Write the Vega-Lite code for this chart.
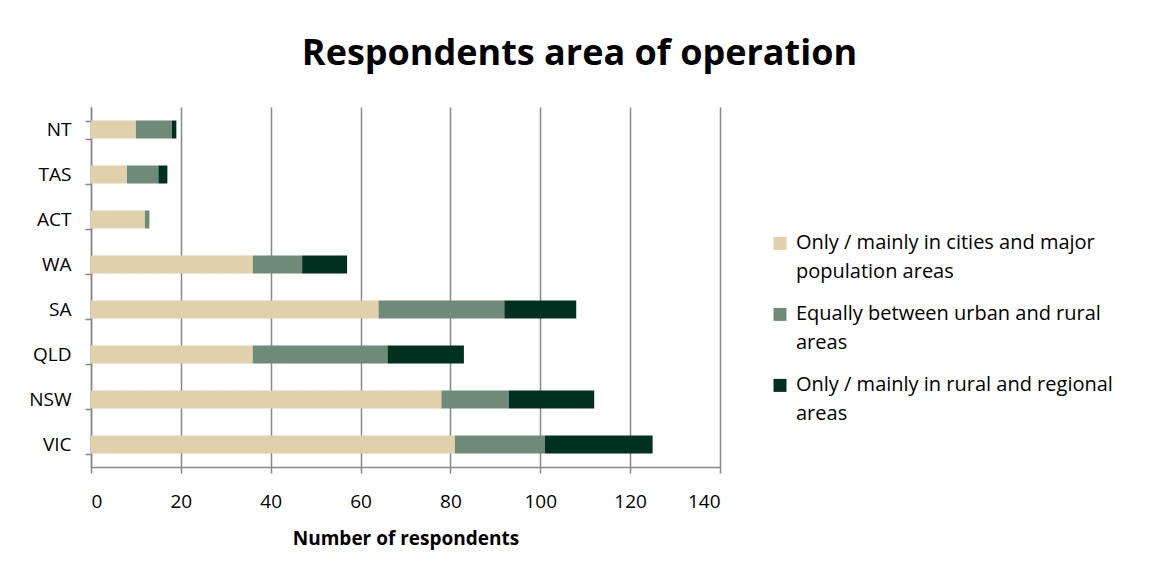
{
  "$schema": "https://vega.github.io/schema/vega-lite/v6.json",
  "width": 629,
  "height": 360,
  "padding": {"left": 28, "top": 36, "right": 5, "bottom": 5},
  "background": "white",
  "title": {"text": "Respondents area of operation", "font": "Open Sans", "fontSize": 36, "fontWeight": "bold", "color": "black", "anchor": "middle", "offset": 25, "dx": 174},
  "data": {"values": [
    {"state": "NT", "area": "Only / mainly in cities and major population areas", "k": 1, "n": 10},
    {"state": "NT", "area": "Equally between urban and rural areas", "k": 2, "n": 8},
    {"state": "NT", "area": "Only / mainly in rural and regional areas", "k": 3, "n": 1},
    {"state": "TAS", "area": "Only / mainly in cities and major population areas", "k": 1, "n": 8},
    {"state": "TAS", "area": "Equally between urban and rural areas", "k": 2, "n": 7},
    {"state": "TAS", "area": "Only / mainly in rural and regional areas", "k": 3, "n": 2},
    {"state": "ACT", "area": "Only / mainly in cities and major population areas", "k": 1, "n": 12},
    {"state": "ACT", "area": "Equally between urban and rural areas", "k": 2, "n": 1},
    {"state": "ACT", "area": "Only / mainly in rural and regional areas", "k": 3, "n": 0},
    {"state": "WA", "area": "Only / mainly in cities and major population areas", "k": 1, "n": 36},
    {"state": "WA", "area": "Equally between urban and rural areas", "k": 2, "n": 11},
    {"state": "WA", "area": "Only / mainly in rural and regional areas", "k": 3, "n": 10},
    {"state": "SA", "area": "Only / mainly in cities and major population areas", "k": 1, "n": 64},
    {"state": "SA", "area": "Equally between urban and rural areas", "k": 2, "n": 28},
    {"state": "SA", "area": "Only / mainly in rural and regional areas", "k": 3, "n": 16},
    {"state": "QLD", "area": "Only / mainly in cities and major population areas", "k": 1, "n": 36},
    {"state": "QLD", "area": "Equally between urban and rural areas", "k": 2, "n": 30},
    {"state": "QLD", "area": "Only / mainly in rural and regional areas", "k": 3, "n": 17},
    {"state": "NSW", "area": "Only / mainly in cities and major population areas", "k": 1, "n": 78},
    {"state": "NSW", "area": "Equally between urban and rural areas", "k": 2, "n": 15},
    {"state": "NSW", "area": "Only / mainly in rural and regional areas", "k": 3, "n": 19},
    {"state": "VIC", "area": "Only / mainly in cities and major population areas", "k": 1, "n": 81},
    {"state": "VIC", "area": "Equally between urban and rural areas", "k": 2, "n": 20},
    {"state": "VIC", "area": "Only / mainly in rural and regional areas", "k": 3, "n": 24}
  ]},
  "mark": {"type": "bar"},
  "encoding": {
    "y": {
      "field": "state", "type": "nominal",
      "sort": ["NT", "TAS", "ACT", "WA", "SA", "QLD", "NSW", "VIC"],
      "scale": {"paddingInner": 0.6, "paddingOuter": 0.3},
      "axis": {"title": null, "labelFont": "Open Sans", "labelFontSize": 19, "labelColor": "black", "labelPadding": 14,
               "domainColor": "#888888", "domainWidth": 1.5, "tickColor": "#888888", "tickWidth": 1.5, "tickSize": 6, "tickBand": "extent", "grid": false}
    },
    "x": {
      "field": "n", "type": "quantitative", "stack": "zero",
      "scale": {"domain": [0, 140], "nice": false},
      "axis": {"values": [0, 20, 40, 60, 80, 100, 120, 140], "title": "Number of respondents", "titleFont": "Open Sans", "titleFontSize": 19, "titleFontWeight": "bold", "titleColor": "black", "titlePadding": 18,
               "labelFont": "Open Sans", "labelFontSize": 19, "labelColor": "black", "labelPadding": 19,
               "domainColor": "#888888", "domainWidth": 1.5, "tickColor": "#888888", "tickWidth": 1.5, "tickSize": 6,
               "grid": true, "gridColor": "#888888", "gridWidth": 1.5}
    },
    "color": {
      "field": "area", "type": "nominal",
      "sort": ["Only / mainly in cities and major population areas", "Equally between urban and rural areas", "Only / mainly in rural and regional areas"],
      "scale": {"domain": ["Only / mainly in cities and major population areas", "Equally between urban and rural areas", "Only / mainly in rural and regional areas"], "range": ["#E0D0AC", "#6E8A79", "#003020"]},
      "legend": {
        "title": null, "orient": "none", "legendX": 679, "legendY": 116,
        "labelFont": "Open Sans", "labelFontSize": 20, "labelColor": "black", "labelLimit": 420,
        "symbolType": "M-1,0.6H1V2.6H-1Z", "symbolSize": 169, "symbolStrokeWidth": 0, "labelOffset": 6, "rowPadding": 12,
        "labelBaseline": "top",
        "labelExpr": "datum.label == 'Only / mainly in cities and major population areas' ? ['Only / mainly in cities and major', 'population areas'] : datum.label == 'Equally between urban and rural areas' ? ['Equally between urban and rural', 'areas'] : ['Only / mainly in rural and regional', 'areas']"
      }
    },
    "order": {"field": "k", "type": "quantitative"}
  },
  "config": {"view": {"stroke": null}, "style": {"guide-label": {"lineHeight": 29}}}
}
